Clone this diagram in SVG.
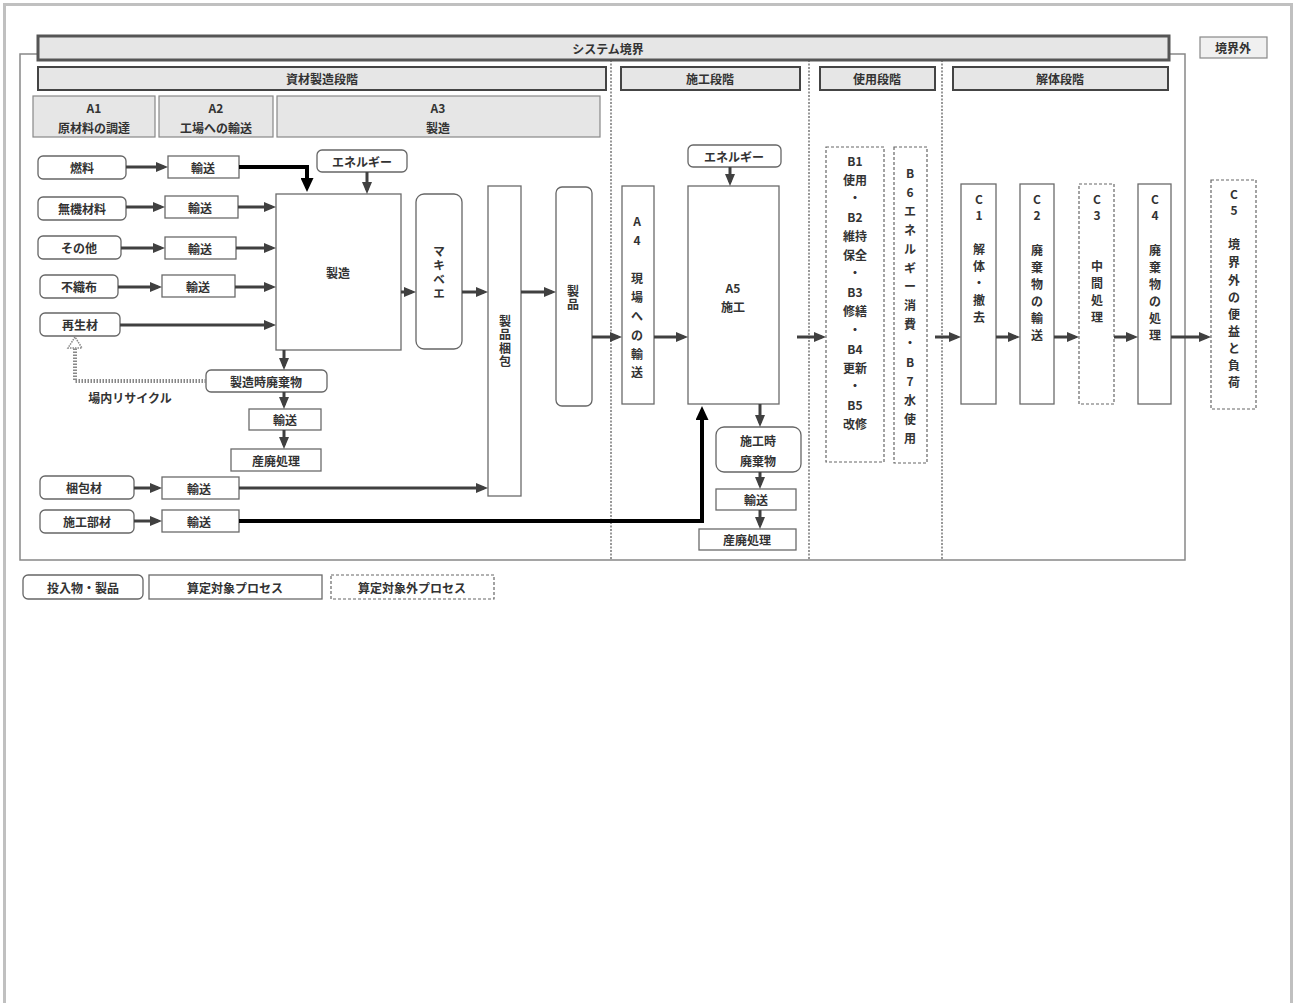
<svg xmlns="http://www.w3.org/2000/svg" width="1295" height="1003" viewBox="0 0 1295 1003">
<style>
.hdr{fill:#e6e6e6;stroke:#444;stroke-width:2}
.sub{fill:#e6e6e6;stroke:#888;stroke-width:1.2}
.inp{fill:#fff;stroke:#666;stroke-width:1.3}
.proc{fill:#fff;stroke:#6a6a6a;stroke-width:1.3}
.ext{fill:#fff;stroke:#666;stroke-width:1.2;stroke-dasharray:3 2}
.sep{stroke:#777;stroke-width:1.5;stroke-dasharray:2 1.5;fill:none}
.t{font-family:"Noto Sans CJK JP","Noto Sans",sans-serif;font-size:12px;font-weight:bold;fill:#333;text-anchor:middle;dominant-baseline:central}
.v{writing-mode:vertical-rl}
.a{stroke:#404040;stroke-width:3;fill:none;marker-end:url(#ah)}
.k{stroke:#000;stroke-width:4;fill:none;marker-end:url(#ahk)}
</style>
<defs>
<marker id="ah" markerUnits="userSpaceOnUse" markerWidth="12" markerHeight="10" refX="8" refY="5" orient="auto"><path d="M0,0 L12,5 L0,10 z" fill="#404040"/></marker>
<marker id="ahk" markerUnits="userSpaceOnUse" markerWidth="14" markerHeight="13" refX="10" refY="6.5" orient="auto"><path d="M0,0 L14,6.5 L0,13 z" fill="#000"/></marker>
</defs>
<rect x="4.5" y="4.5" width="1287" height="1003" fill="#fff" stroke="#c0c0c0" stroke-width="3"/>

<g id="boundary-frame">
<path d="M37,54 H20 V560 H1185 V54 H1170" fill="none" stroke="#888" stroke-width="1.5"/>
<line class="sep" x1="611" y1="60" x2="611" y2="560"/>
<line class="sep" x1="809" y1="60" x2="809" y2="560"/>
<line class="sep" x1="942" y1="60" x2="942" y2="560"/>
</g>

<g id="system-boundary"><rect x="38" y="36" width="1131" height="24" fill="#e6e6e6" stroke="#555" stroke-width="3"/><text class="t" x="608" y="48">システム境界</text></g>
<g id="outside"><rect x="1200" y="37" width="67" height="21" fill="#f0f0f0" stroke="#888" stroke-width="1.2"/><text class="t" x="1233" y="47.5">境界外</text></g>

<g id="stage-product"><rect class="hdr" x="38" y="67" width="568" height="23"/><text class="t" x="322" y="78.5">資材製造段階</text></g>
<g id="stage-construct"><rect class="hdr" x="621" y="67" width="179" height="23"/><text class="t" x="710" y="78.5">施工段階</text></g>
<g id="stage-use"><rect class="hdr" x="820" y="67" width="115" height="23"/><text class="t" x="877" y="78.5">使用段階</text></g>
<g id="stage-end"><rect class="hdr" x="953" y="67" width="215" height="23"/><text class="t" x="1060" y="78.5">解体段階</text></g>

<g id="A1"><rect class="sub" x="33" y="96" width="122" height="41"/><text class="t" x="94" y="107">A1</text><text class="t" x="94" y="127">原材料の調達</text></g>
<g id="A2"><rect class="sub" x="159" y="96" width="114" height="41"/><text class="t" x="216" y="107">A2</text><text class="t" x="216" y="127">工場への輸送</text></g>
<g id="A3"><rect class="sub" x="277" y="96" width="323" height="41"/><text class="t" x="438" y="107">A3</text><text class="t" x="438" y="127">製造</text></g>

<g id="in-fuel"><rect class="inp" x="38" y="156" width="88" height="23" rx="5"/><text class="t" x="82" y="167.5">燃料</text></g>
<g id="in-inorganic"><rect class="inp" x="38" y="197" width="88" height="23" rx="5"/><text class="t" x="82" y="208.5">無機材料</text></g>
<g id="in-other"><rect class="inp" x="38" y="236" width="83" height="23" rx="5"/><text class="t" x="79" y="247.5">その他</text></g>
<g id="in-nonwoven"><rect class="inp" x="40" y="275" width="78" height="23" rx="5"/><text class="t" x="79" y="286.5">不織布</text></g>
<g id="in-recycled"><rect class="inp" x="40" y="313" width="80" height="23" rx="5"/><text class="t" x="80" y="324.5">再生材</text></g>
<g id="in-packing"><rect class="inp" x="40" y="476" width="94" height="23" rx="5"/><text class="t" x="84" y="487.5">梱包材</text></g>
<g id="in-parts"><rect class="inp" x="40" y="510" width="94" height="23" rx="5"/><text class="t" x="87" y="521.5">施工部材</text></g>

<g id="tr-fuel"><rect class="proc" x="168" y="156" width="71" height="22"/><text class="t" x="203" y="167">輸送</text></g>
<g id="tr-inorganic"><rect class="proc" x="165" y="196" width="73" height="22"/><text class="t" x="200" y="207">輸送</text></g>
<g id="tr-other"><rect class="proc" x="165" y="237" width="71" height="22"/><text class="t" x="200" y="248">輸送</text></g>
<g id="tr-nonwoven"><rect class="proc" x="162" y="275" width="73" height="22"/><text class="t" x="198" y="286">輸送</text></g>
<g id="tr-packing"><rect class="proc" x="162" y="477" width="77" height="22"/><text class="t" x="199" y="488">輸送</text></g>
<g id="tr-parts"><rect class="proc" x="162" y="510" width="77" height="22"/><text class="t" x="199" y="521">輸送</text></g>

<g id="energy-a3"><rect class="inp" x="317" y="150" width="90" height="22" rx="5"/><text class="t" x="362" y="161">エネルギー</text></g>
<g id="manufacture"><rect class="proc" x="276" y="194" width="125" height="156"/><text class="t" x="338" y="272">製造</text></g>
<g id="makibee"><rect class="inp" x="416" y="194" width="46" height="155" rx="8"/><text class="t v" x="439" y="273" letter-spacing="2">マキベエ</text></g>
<g id="packaging"><rect class="proc" x="488" y="186" width="33" height="310"/><text class="t v" x="505" y="342" letter-spacing="1.3">製品梱包</text></g>
<g id="product"><rect class="inp" x="556" y="187" width="36" height="219" rx="6"/><text class="t v" x="573" y="298" letter-spacing="1">製品</text></g>

<g id="mfg-waste"><rect class="inp" x="206" y="370" width="121" height="22" rx="5"/><text class="t" x="266" y="381">製造時廃棄物</text></g>
<g id="mfg-waste-tr"><rect class="proc" x="249" y="409" width="72" height="21"/><text class="t" x="285" y="419.5">輸送</text></g>
<g id="mfg-waste-disp"><rect class="proc" x="231" y="449" width="90" height="22"/><text class="t" x="276" y="460">産廃処理</text></g>
<text class="t" x="130" y="397">場内リサイクル</text>

<g id="A4"><rect class="proc" x="622" y="186" width="32" height="218"/><text class="t" x="637"><tspan x="637" y="220">A</tspan><tspan x="637" y="239">4</tspan><tspan x="637" y="277">現</tspan><tspan x="637" y="296">場</tspan><tspan x="637" y="315">へ</tspan><tspan x="637" y="334">の</tspan><tspan x="637" y="353">輸</tspan><tspan x="637" y="371">送</tspan></text></g>
<g id="energy-a5"><rect class="inp" x="688" y="145" width="93" height="22" rx="5"/><text class="t" x="734" y="156">エネルギー</text></g>
<g id="A5"><rect class="proc" x="688" y="186" width="91" height="218"/><text class="t" x="733" y="287">A5</text><text class="t" x="733" y="306">施工</text></g>
<g id="con-waste"><rect class="inp" x="716" y="427" width="85" height="45" rx="8"/><text class="t" x="758" y="440">施工時</text><text class="t" x="758" y="460">廃棄物</text></g>
<g id="con-waste-tr"><rect class="proc" x="716" y="489" width="80" height="21"/><text class="t" x="756" y="499.5">輸送</text></g>
<g id="con-waste-disp"><rect class="proc" x="699" y="529" width="97" height="21"/><text class="t" x="747" y="539.5">産廃処理</text></g>

<g id="B1-5"><rect class="ext" x="826" y="147" width="58" height="315"/><text class="t" x="855"><tspan x="855" y="160">B1</tspan><tspan x="855" y="179">使用</tspan><tspan x="855" y="197">・</tspan><tspan x="855" y="216">B2</tspan><tspan x="855" y="235">維持</tspan><tspan x="855" y="254">保全</tspan><tspan x="855" y="272">・</tspan><tspan x="855" y="291">B3</tspan><tspan x="855" y="310">修繕</tspan><tspan x="855" y="329">・</tspan><tspan x="855" y="348">B4</tspan><tspan x="855" y="367">更新</tspan><tspan x="855" y="385">・</tspan><tspan x="855" y="404">B5</tspan><tspan x="855" y="423">改修</tspan></text></g>
<g id="B6-7"><rect class="ext" x="894" y="147" width="33" height="316"/><text class="t" x="910"><tspan x="910" y="172">B</tspan><tspan x="910" y="191">6</tspan><tspan x="910" y="210">エ</tspan><tspan x="910" y="229">ネ</tspan><tspan x="910" y="248">ル</tspan><tspan x="910" y="267">ギ</tspan><tspan x="910" y="285">ー</tspan><tspan x="910" y="304">消</tspan><tspan x="910" y="323">費</tspan><tspan x="910" y="342">・</tspan><tspan x="910" y="361">B</tspan><tspan x="910" y="380">7</tspan><tspan x="910" y="399">水</tspan><tspan x="910" y="418">使</tspan><tspan x="910" y="437">用</tspan></text></g>

<g id="C1"><rect class="proc" x="961" y="184" width="35" height="220"/><text class="t" x="979"><tspan x="979" y="198">C</tspan><tspan x="979" y="214">1</tspan><tspan x="979" y="248">解</tspan><tspan x="979" y="265">体</tspan><tspan x="979" y="282">・</tspan><tspan x="979" y="299">撤</tspan><tspan x="979" y="316">去</tspan></text></g>
<g id="C2"><rect class="proc" x="1020" y="184" width="34" height="220"/><text class="t" x="1037"><tspan x="1037" y="198">C</tspan><tspan x="1037" y="214">2</tspan><tspan x="1037" y="249">廃</tspan><tspan x="1037" y="266">棄</tspan><tspan x="1037" y="283">物</tspan><tspan x="1037" y="300">の</tspan><tspan x="1037" y="317">輸</tspan><tspan x="1037" y="334">送</tspan></text></g>
<g id="C3"><rect class="ext" x="1079" y="184" width="35" height="220"/><text class="t" x="1097"><tspan x="1097" y="198">C</tspan><tspan x="1097" y="214">3</tspan><tspan x="1097" y="265">中</tspan><tspan x="1097" y="282">間</tspan><tspan x="1097" y="299">処</tspan><tspan x="1097" y="316">理</tspan></text></g>
<g id="C4"><rect class="proc" x="1138" y="184" width="33" height="220"/><text class="t" x="1155"><tspan x="1155" y="198">C</tspan><tspan x="1155" y="214">4</tspan><tspan x="1155" y="249">廃</tspan><tspan x="1155" y="266">棄</tspan><tspan x="1155" y="283">物</tspan><tspan x="1155" y="300">の</tspan><tspan x="1155" y="317">処</tspan><tspan x="1155" y="334">理</tspan></text></g>
<g id="C5"><rect class="ext" x="1211" y="180" width="45" height="229"/><text class="t" x="1234"><tspan x="1234" y="193">C</tspan><tspan x="1234" y="209">5</tspan><tspan x="1234" y="243">境</tspan><tspan x="1234" y="261">界</tspan><tspan x="1234" y="279">外</tspan><tspan x="1234" y="296">の</tspan><tspan x="1234" y="313">便</tspan><tspan x="1234" y="330">益</tspan><tspan x="1234" y="347">と</tspan><tspan x="1234" y="364">負</tspan><tspan x="1234" y="381">荷</tspan></text></g>

<g id="legend-input"><rect class="inp" x="23" y="575" width="120" height="24" rx="5"/><text class="t" x="83" y="587">投入物・製品</text></g>
<g id="legend-proc"><rect class="proc" x="149" y="575" width="173" height="24"/><text class="t" x="235" y="587">算定対象プロセス</text></g>
<g id="legend-ext"><rect class="ext" x="331" y="575" width="163" height="24"/><text class="t" x="412" y="587">算定対象外プロセス</text></g>

<g id="connectors">
<path class="a" d="M126,167 H164"/>
<path class="a" d="M126,207 H161"/>
<path class="a" d="M121,248 H161"/>
<path class="a" d="M118,287 H158"/>
<path class="a" d="M134,488 H158"/>
<path class="a" d="M134,521 H158"/>
<path class="k" d="M239,167 H307 V188"/>
<path class="a" d="M367,172 V190"/>
<path class="a" d="M238,207 H272"/>
<path class="a" d="M236,248 H272"/>
<path class="a" d="M235,287 H272"/>
<path class="a" d="M120,325 H272"/>
<path class="a" d="M401,292 H412"/>
<path class="a" d="M462,292 H484"/>
<path class="a" d="M521,292 H552"/>
<path class="a" d="M592,337 H618"/>
<path class="a" d="M654,337 H684"/>
<path class="a" d="M730,167 V182"/>
<path class="a" d="M760,404 V423"/>
<path class="a" d="M760,472 V485"/>
<path class="a" d="M760,510 V525"/>
<path class="a" d="M239,488 H484"/>
<path class="k" d="M239,521 H702 V410"/>
<path class="a" d="M284,350 V366"/>
<path class="a" d="M284,392 V405"/>
<path class="a" d="M284,430 V445"/>
<path class="a" d="M797,337 H822"/>
<path class="a" d="M935,337 H957"/>
<path class="a" d="M996,337 H1016"/>
<path class="a" d="M1054,337 H1075"/>
<path class="a" d="M1114,337 H1134"/>
<path class="a" d="M1171,337 H1207"/>
<path d="M206,381 H75 V348" fill="none" stroke="#888" stroke-width="4" stroke-dasharray="1.5 1.5"/>
<polygon points="75,337 68,348 82,348" fill="#fff" stroke="#888" stroke-width="1.5" stroke-dasharray="1.5 1"/>
</g>
</svg>
